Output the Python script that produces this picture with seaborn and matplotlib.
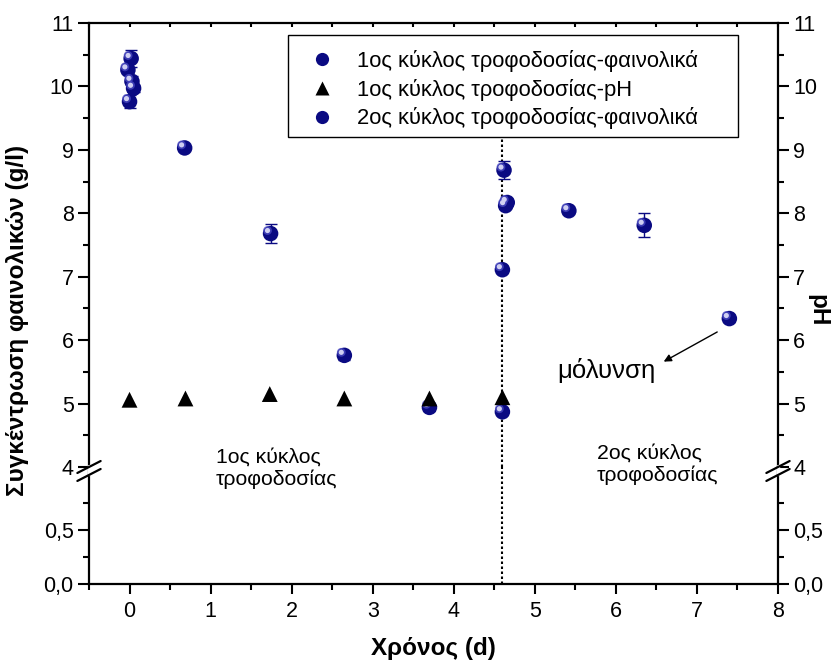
import matplotlib
matplotlib.use("Agg")
import matplotlib.pyplot as plt
import seaborn as sns
import pandas as pd
from matplotlib.ticker import MultipleLocator, FixedLocator, FuncFormatter
from matplotlib.transforms import offset_copy
from matplotlib.lines import Line2D
from matplotlib.patches import Rectangle

# 1ος κύκλος - φαινολικά (g/l)
t1 = [0.02, -0.02, 0.03, 0.05, 0.0, 0.68, 1.74, 2.65, 3.70, 4.60]
phen1 = [10.44, 10.26, 10.08, 9.97, 9.76, 9.03, 7.68, 5.76, 4.94, 4.87]
err1 = [0.14, 0.05, 0.08, 0.06, 0.10, 0.03, 0.15, 0.07, 0.06, 0.03]

# 1ος κύκλος - pH
t_ph = [0.0, 0.69, 1.73, 2.65, 3.70, 4.60]
ph1 = [5.06, 5.08, 5.15, 5.08, 5.08, 5.10]

# 2ος κύκλος - φαινολικά (g/l)
t2 = [4.60, 4.62, 4.64, 4.66, 5.42, 6.35, 7.40]
phen2 = [7.11, 8.68, 8.12, 8.17, 8.04, 7.81, 6.34]
err2 = [0.04, 0.14, 0.04, 0.05, 0.04, 0.19, 0.05]

feed_change = 4.6

labels = ["1ος κύκλος τροφοδοσίας-φαινολικά",
          "1ος κύκλος τροφοδοσίας-pH",
          "2ος κύκλος τροφοδοσίας-φαινολικά"]

sns.set_style("ticks")
plt.rcParams['font.family'] = ['Liberation Sans', 'DejaVu Sans']
for k in ('text.color', 'axes.labelcolor', 'xtick.color', 'ytick.color', 'axes.edgecolor'):
    plt.rcParams[k] = 'black'

NAVY = "#0a0a82"
HILITE = "#d0d0f2"
FS = 15.5

fig = plt.figure(figsize=(8.31, 6.64), dpi=100)
L, R = 89 / 831, 778 / 831
top, brk, bot = 1 - 23 / 664, 1 - 467 / 664, 1 - 584 / 664
ax = fig.add_axes([L, brk, R - L, top - brk])        # πάνω τμήμα 4-11
axl = fig.add_axes([L, bot, R - L, brk - bot], sharex=ax)  # κάτω τμήμα 0-1

df1 = pd.DataFrame({"t": t1, "c": phen1})
df2 = pd.DataFrame({"t": t2, "c": phen2})
dph = pd.DataFrame({"t": t_ph, "ph": ph1})

# error bars
ax.errorbar(t1, phen1, yerr=err1, fmt="none", ecolor=NAVY, elinewidth=1, capsize=4, capthick=1, zorder=2)
ax.errorbar(t2, phen2, yerr=err2, fmt="none", ecolor=NAVY, elinewidth=1, capsize=4, capthick=1, zorder=2)

# spheres
hl = offset_copy(ax.transData, fig=fig, x=-2.2, y=2.2, units="points")
for d in (df1, df2):
    sns.scatterplot(data=d, x="t", y="c", ax=ax, color=NAVY, s=125, edgecolor="none", zorder=3, legend=False)
    sns.scatterplot(data=d, x="t", y="c", ax=ax, color="#4848c0", s=40, edgecolor="none",
                    transform=hl, zorder=4, legend=False, alpha=0.8)
    sns.scatterplot(data=d, x="t", y="c", ax=ax, color=HILITE, s=14, edgecolor="none",
                    transform=hl, zorder=5, legend=False)

# pH triangles
sns.scatterplot(data=dph, x="t", y="ph", ax=ax, color="black", marker="^", s=130,
                edgecolor="none", zorder=6, legend=False)

ax.vlines(feed_change, 4, 9.3, color="black", ls=(0, (1.2, 1.2)), lw=1.5, zorder=1)
axl.axvline(feed_change, color="black", ls=(0, (1.2, 1.2)), lw=1.5, zorder=1)

for a in (ax, axl):
    a.set_xlim(-0.5, 8)
    a.set_xlabel("")
    a.set_ylabel("")
    a.xaxis.set_major_locator(MultipleLocator(1))
    a.xaxis.set_minor_locator(MultipleLocator(0.5))
    for s in a.spines.values():
        s.set_linewidth(1.6)
    a.tick_params(axis="y", which="major", left=True, right=True, labelleft=True, labelright=True,
                  direction="out", length=8, width=1.5, labelsize=FS, pad=3)
    a.tick_params(axis="y", which="minor", left=True, right=True, direction="out", length=4, width=1.5)

ax.set_ylim(4, 11)
ax.yaxis.set_major_locator(MultipleLocator(1))
ax.yaxis.set_minor_locator(MultipleLocator(0.5))
ax.spines["bottom"].set_visible(False)
ax.tick_params(axis="x", which="both", bottom=False, labelbottom=False, top=True, direction="in",
               length=3, width=1.5)

axl.set_ylim(0, 1.083)
axl.yaxis.set_major_locator(FixedLocator([0, 0.5]))
axl.yaxis.set_minor_locator(FixedLocator([0.25, 0.75]))
axl.yaxis.set_major_formatter(FuncFormatter(lambda v, p: f"{v:.1f}".replace(".", ",")))
axl.spines["top"].set_visible(False)
axl.tick_params(axis="x", which="major", direction="out", length=7.5, width=1.5, labelsize=FS, pad=5)
axl.tick_params(axis="x", which="minor", direction="out", length=4, width=1.5)

# break marks
yb = brk
for xb in (L, R):
    fig.add_artist(Line2D([xb, xb], [yb - 0.011, yb + 0.001], transform=fig.transFigure,
                          color="white", lw=2.4))
    for dy in (0.0, -0.012):
        fig.add_artist(Line2D([xb - 0.014, xb + 0.014], [yb + dy - 0.009, yb + dy + 0.009],
                              transform=fig.transFigure, color="black", lw=1.6))

# labels
fig.text(18 / 831, 1 - 320 / 664, "Συγκέντρωση φαινολικών (g/l)", rotation=90, ha="center", va="center",
         fontsize=17.5, fontweight="bold")
fig.text(818 / 831, 1 - 310 / 664, "pH", rotation=270, ha="center", va="center", fontsize=17.5,
         fontweight="bold")
fig.text(433 / 831, 1 - 648 / 664, "Χρόνος (d)", ha="center", va="center", fontsize=17.5, fontweight="bold")

fig.text(216 / 831, 1 - 468 / 664, "1ος κύκλος\nτροφοδοσίας", ha="left", va="center", fontsize=15.3,
         multialignment="left")
fig.text(597 / 831, 1 - 464 / 664, "2ος κύκλος\nτροφοδοσίας", ha="left", va="center", fontsize=15.3,
         multialignment="left")

ax.text(5.88, 5.52, "μόλυνση", ha="center", va="center", fontsize=18.5)
ax.annotate("", xy=(6.56, 5.64), xytext=(7.28, 6.15),
            arrowprops=dict(arrowstyle="-|>", color="black", lw=1, mutation_scale=11))

# legend: frame drawn separately (wide right margin as in the original)
box = Rectangle((288 / 831, 1 - 137 / 664), 450 / 831, 102 / 664, transform=fig.transFigure,
                facecolor="white", edgecolor="black", lw=1, zorder=9)
fig.add_artist(box)

def sphere_handle():
    return Line2D([], [], ls="none", marker="o", ms=9.5, mfc=NAVY, mec="none")

handles = [sphere_handle(),
           Line2D([], [], ls="none", marker="^", ms=10, mfc="black", mec="none"),
           sphere_handle()]
leg = fig.legend(handles, labels, loc="upper left", bbox_to_anchor=(288 / 831, 1 - 38 / 664),
                 bbox_transform=fig.transFigure, borderaxespad=0, frameon=False,
                 fontsize=15.8, handlelength=2.0, handletextpad=0.6,
                 labelspacing=0.3, borderpad=0.55)
leg.set_zorder(10)

fig.savefig("out.png", dpi=100)
